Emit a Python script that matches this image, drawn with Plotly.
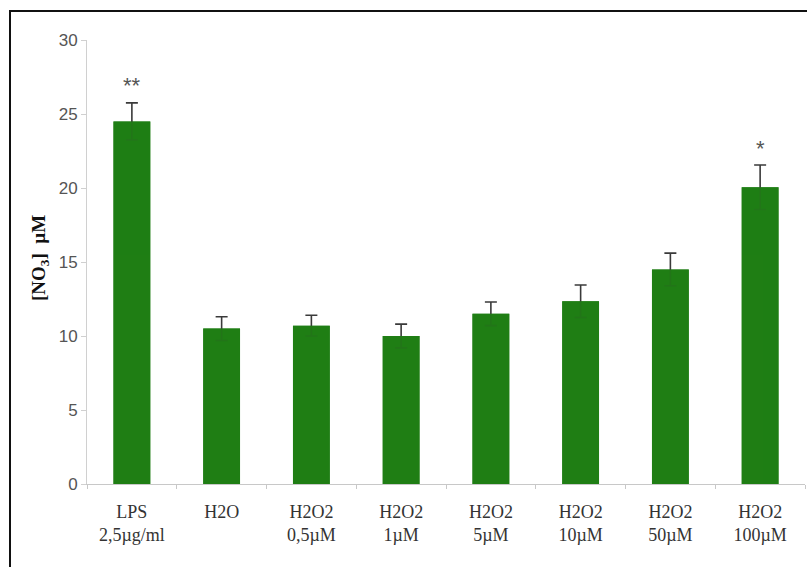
import plotly.graph_objects as go

# Treatments, mean nitrate concentration and SEM
categories = ["LPS<br>2,5µg/ml", "H2O<br> ", "H2O2<br>0,5µM", "H2O2<br>1µM",
              "H2O2<br>5µM", "H2O2<br>10µM", "H2O2<br>50µM", "H2O2<br>100µM"]
means = [24.5, 10.5, 10.7, 10.0, 11.5, 12.35, 14.5, 20.05]
errors = [1.25, 0.8, 0.7, 0.8, 0.8, 1.1, 1.1, 1.5]
significance = ["**", "", "", "", "", "", "", "*"]
y_ticks = [0, 5, 10, 15, 20, 25, 30]

W, H = 807, 567
ml, mr, mt, mb = 87, 2, 40, 83
pw, ph = W - ml - mr, H - mt - mb
GREEN = "#1f7e14"

fig = go.Figure()
# bars with full error bars
fig.add_trace(go.Bar(
    x=categories, y=means,
    marker=dict(color=GREEN, line=dict(width=0)),
    error_y=dict(type="data", array=errors, symmetric=True,
                 color="#3a3a3a", thickness=1.6, width=6),
    width=0.41,
))
# translucent overlay so the lower half of each error bar shows only faintly
fig.add_trace(go.Bar(
    x=categories, y=means,
    marker=dict(color=GREEN, line=dict(width=0)), opacity=0.88,
    width=0.41, hoverinfo="skip",
))

# significance markers above the error bars
for cat, m, e, s in zip(categories, means, errors, significance):
    if s:
        fig.add_annotation(x=cat, y=m + e + 1.15, text=s, showarrow=False,
                           xref="x", yref="y", yanchor="middle",
                           font=dict(family="Liberation Sans", size=22, color="#555"))

# y-axis title
fig.add_annotation(text="<b>[NO<sub>3</sub>]  µM</b>", textangle=-90,
                   xref="paper", yref="paper",
                   x=(40 - ml) / pw, y=(H - mb - 258) / ph,
                   xanchor="center", yanchor="middle", showarrow=False,
                   font=dict(family="Liberation Serif", size=19, color="#111"))

# frame around the chart
fig.add_shape(type="rect", xref="paper", yref="paper",
              x0=(10 - ml) / pw, y0=-0.5, x1=1.2, y1=(H - mb - 11) / ph,
              line=dict(color="#111", width=2), fillcolor="rgba(0,0,0,0)",
              layer="above")

fig.update_layout(
    width=W, height=H,
    margin=dict(l=ml, r=mr, t=mt, b=mb),
    paper_bgcolor="white", plot_bgcolor="white",
    showlegend=False, barmode="overlay",
    xaxis=dict(
        showline=True, linecolor="#c8c8c8", linewidth=1,
        ticks="outside", ticklen=4, tickcolor="#c8c8c8",
        tickson="boundaries", ticklabelstandoff=11,
        tickfont=dict(family="Liberation Serif", size=18, color="#333"),
        showgrid=False, zeroline=False,
    ),
    yaxis=dict(
        range=[0, 30], tickvals=y_ticks,
        showline=True, linecolor="#d0d0d0", linewidth=1,
        ticks="outside", ticklen=5, tickcolor="#d0d0d0",
        tickfont=dict(family="Liberation Sans", size=17, color="#555"),
        showgrid=False, zeroline=False,
    ),
)

fig.write_html("out.html")
